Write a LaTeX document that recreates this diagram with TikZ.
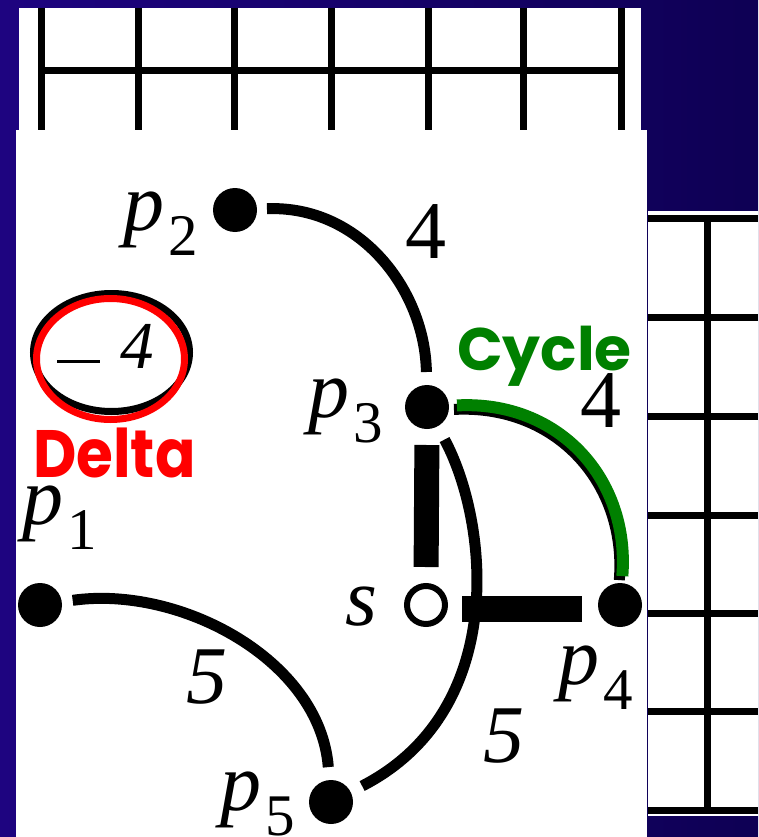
\documentclass[tikz,border=0pt]{standalone}
\usepackage{fontspec}
\setmainfont{Liberation Serif}
\newfontfamily\gothic{Poppins}
\usetikzlibrary{calc}
\definecolor{navyL}{RGB}{30,4,128}
\definecolor{navyR}{RGB}{14,0,84}
\definecolor{cyclegreen}{RGB}{0,128,0}
\definecolor{deltared}{RGB}{255,0,0}
\newcommand\plab[1]{{\itshape p}\kern4pt\raisebox{-25pt}{\fontsize{59}{59}\selectfont #1}}
\begin{document}
\begin{tikzpicture}[x=1pt,y=-1pt,
  dot/.style={circle,fill=black,minimum size=44pt,inner sep=0pt,outer sep=0pt},
  ring/.style={circle,draw=black,line width=6pt,fill=white,minimum size=38pt,inner sep=0pt,outer sep=3pt},
  edgeline/.style={line width=11pt,line cap=butt},
  bar/.style={line width=25pt,line cap=butt},
  gridline/.style={line width=7pt},
  panel/.style={fill=white},
  lab/.style={inner sep=0pt,anchor=base west,font=\fontsize{82}{82}\selectfont},
  smalllab/.style={inner sep=0pt,anchor=base west,font=\fontsize{67}{67}\selectfont},
  word/.style={inner sep=0pt,anchor=base west,font=\gothic\bfseries}]
\useasboundingbox (0,0) rectangle (758,837);
% background
\shade[left color=navyL,right color=navyR] (0,0) rectangle (758,837);
% top panel with grid
\fill[panel] (19,8) rectangle (641,130);
\foreach \gx in {41,138,234,331,428,523,621}
  \draw[gridline] (\gx,8) -- (\gx,130);
\draw[gridline] (41,71) -- (621,71);
% right panel with grid
\fill[panel] (648,211) rectangle (758,816);
\foreach \gy in {218,317,416,515,613,711,810}
  \draw[gridline] (648,\gy) -- (758,\gy);
\draw[gridline] (707,218) -- (707,810);
% main panel
\fill[panel] (16,130) rectangle (647,837);
% vertices
\node[dot] (p1) at (40,605) {};
\node[dot] (p2) at (235,210) {};
\node[dot] (p3) at (427,407) {};
\node[dot] (p4) at (620,605) {};
\node[dot] (p5) at (331,802) {};
\node[ring] (s) at (426,605) {};
% edges
\draw[edgeline,shorten <=10pt,shorten >=13pt] (p2) .. controls (360,205) and (425,290) .. (p3);
\draw[edgeline,shorten <=11pt,shorten >=13pt] (p1) .. controls (180,585) and (320,660) .. (p5);
\draw[edgeline,shorten <=15pt,shorten >=13pt] (p3) .. controls (488,520) and (510,710) .. (p5);
\draw[edgeline,transform canvas={xshift=-3pt,yshift=-4pt},shorten <=8pt,shorten >=7pt] (p3) .. controls (560,400) and (630,480) .. (p4);
\draw[edgeline,line width=12pt,cyclegreen,shorten <=8pt,shorten >=7pt] (p3) .. controls (560,400) and (630,480) .. (p4);
\draw[bar,shorten <=16pt,shorten >=16pt] (p3.south) -- (s.north);
\draw[bar,line width=26pt,shorten <=14pt,shorten >=16pt] ([yshift=-4pt]s.east) -- ([yshift=-4pt]p4.west);
% vertex labels
\node[lab] (lp1) at (22,524) {\plab{1}};
\node[lab] (lp2) at (123,230) {\plab{2}};
\node[lab] (lp3) at (308,417) {\plab{3}};
\node[lab] (lp4) at (558,684) {\plab{4}};
\node[lab] (lp5) at (220,810) {\plab{5}};
\node[lab] (ls) at (345,625) {\textit{s}};
% weights
\node[lab] (w23) at (405,258) {4};
\node[lab] (w34) at (580,427) {4};
\node[lab] (w15) at (186,703) {\textit{5}};
\node[lab] (w35) at (483,762) {\textit{5}};
% delta annotation
\draw[black,line width=7pt] (111.5,352.5) ellipse [x radius=78pt,y radius=59pt];
\draw[deltared,line width=7pt] (110.5,359) ellipse [x radius=74pt,y radius=60.5pt];
\node[smalllab] (dval) at (57,368) {\rule[5.5pt]{43pt}{3pt}\kern20pt\textit{4}};
\node[word,text=deltared,font=\gothic\bfseries\fontsize{67}{67}\selectfont] (delta) at (33,477) {\scalebox{0.89}[1]{Delta}};
\node[word,text=cyclegreen,font=\gothic\bfseries\fontsize{60}{60}\selectfont] (cycle) at (457,370) {Cycle};
\end{tikzpicture}
\end{document}
